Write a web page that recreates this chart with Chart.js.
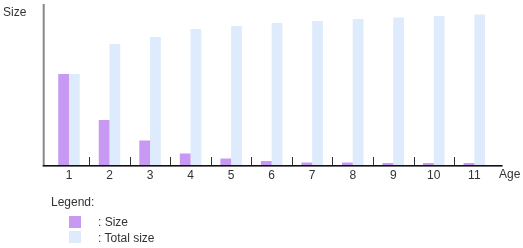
<!DOCTYPE html>
<html>
<head>
<meta charset="utf-8">
<script src="https://cdn.jsdelivr.net/npm/chart.js@4/dist/chart.umd.min.js"></script>
<style>
  html, body { margin: 0; padding: 0; background: #fff; }
  #wrap { position: relative; width: 523px; height: 248px; font-family: "Liberation Sans", Arial, sans-serif; color: #333; font-size: 12px; }
  canvas { position: absolute; left: 0; top: 0; }
  .t { position: absolute; line-height: 14px; white-space: nowrap; }
  .sw { position: absolute; width: 12px; height: 12px; }
</style>
</head>
<body>
<div id="wrap">
  <canvas id="c" width="523" height="248"></canvas>
  <div class="t" style="left:3px; top:5px;">Size</div>
  <div class="t" style="left:499px; top:167px;">Age</div>
  <div class="t" style="left:51px; top:195px;">Legend:</div>
  <div class="sw" style="left:69px; top:216px; background:#c799f2;"></div>
  <div class="sw" style="left:69px; top:231px; background:#ddebfc;"></div>
  <div class="t" style="left:98px; top:215px;">: Size</div>
  <div class="t" style="left:98px; top:231px;">: Total size</div>
</div>
<script>
const categories = ["1", "2", "3", "4", "5", "6", "7", "8", "9", "10", "11"];
const sizeValues = [91, 45, 24.5, 11.5, 6.5, 4, 2.5, 2.5, 2, 2, 2];
const totalSizeValues = [91, 121, 128, 136, 139, 142, 144, 146, 147.5, 149, 150.5];
const seriesNames = ["Size", "Total size"];

const axisPlugin = {
  id: 'axisPlugin',
  afterDatasetsDraw(chart) {
    const ctx = chart.ctx;
    const xs = chart.scales.x;
    const area = chart.chartArea;
    ctx.save();
    ctx.fillStyle = '#888888';
    ctx.fillRect(area.left - 6, 4, 2, area.bottom - 4 + 1);
    ctx.fillStyle = '#111111';
    ctx.fillRect(area.left - 6, area.bottom, area.right + 8 - (area.left - 6), 1.6);
    ctx.strokeStyle = '#333333';
    ctx.lineWidth = 1;
    for (let i = 0; i < categories.length - 1; i++) {
      const x = Math.round((xs.getPixelForValue(i) + xs.getPixelForValue(i + 1)) / 2) + 0.5;
      ctx.beginPath();
      ctx.moveTo(x, area.bottom - 8);
      ctx.lineTo(x, area.bottom);
      ctx.stroke();
    }
    ctx.restore();
  }
};

new Chart(document.getElementById('c'), {
  type: 'bar',
  data: {
    labels: categories,
    datasets: [
      { label: seriesNames[0], data: sizeValues, backgroundColor: '#c799f2', borderWidth: 0 },
      { label: seriesNames[1], data: totalSizeValues, backgroundColor: '#ddebfc', borderWidth: 0 }
    ]
  },
  options: {
    responsive: false,
    animation: false,
    events: [],
    layout: { padding: { left: 48.7, right: 28.4, top: 5, bottom: 0 } },
    plugins: { legend: { display: false }, tooltip: { enabled: false } },
    datasets: { bar: { categoryPercentage: 0.53, barPercentage: 1 } },
    scales: {
      x: {
        offset: true,
        grid: { display: false, drawTicks: false },
        border: { display: false },
        ticks: { color: '#333', font: { family: '"Liberation Sans", Arial, sans-serif', size: 12 }, padding: 3, maxRotation: 0, autoSkip: false },
        afterFit(scale) { scale.height = 83; }
      },
      y: {
        display: false,
        min: 0,
        max: 160
      }
    }
  },
  plugins: [axisPlugin]
});
</script>
</body>
</html>
